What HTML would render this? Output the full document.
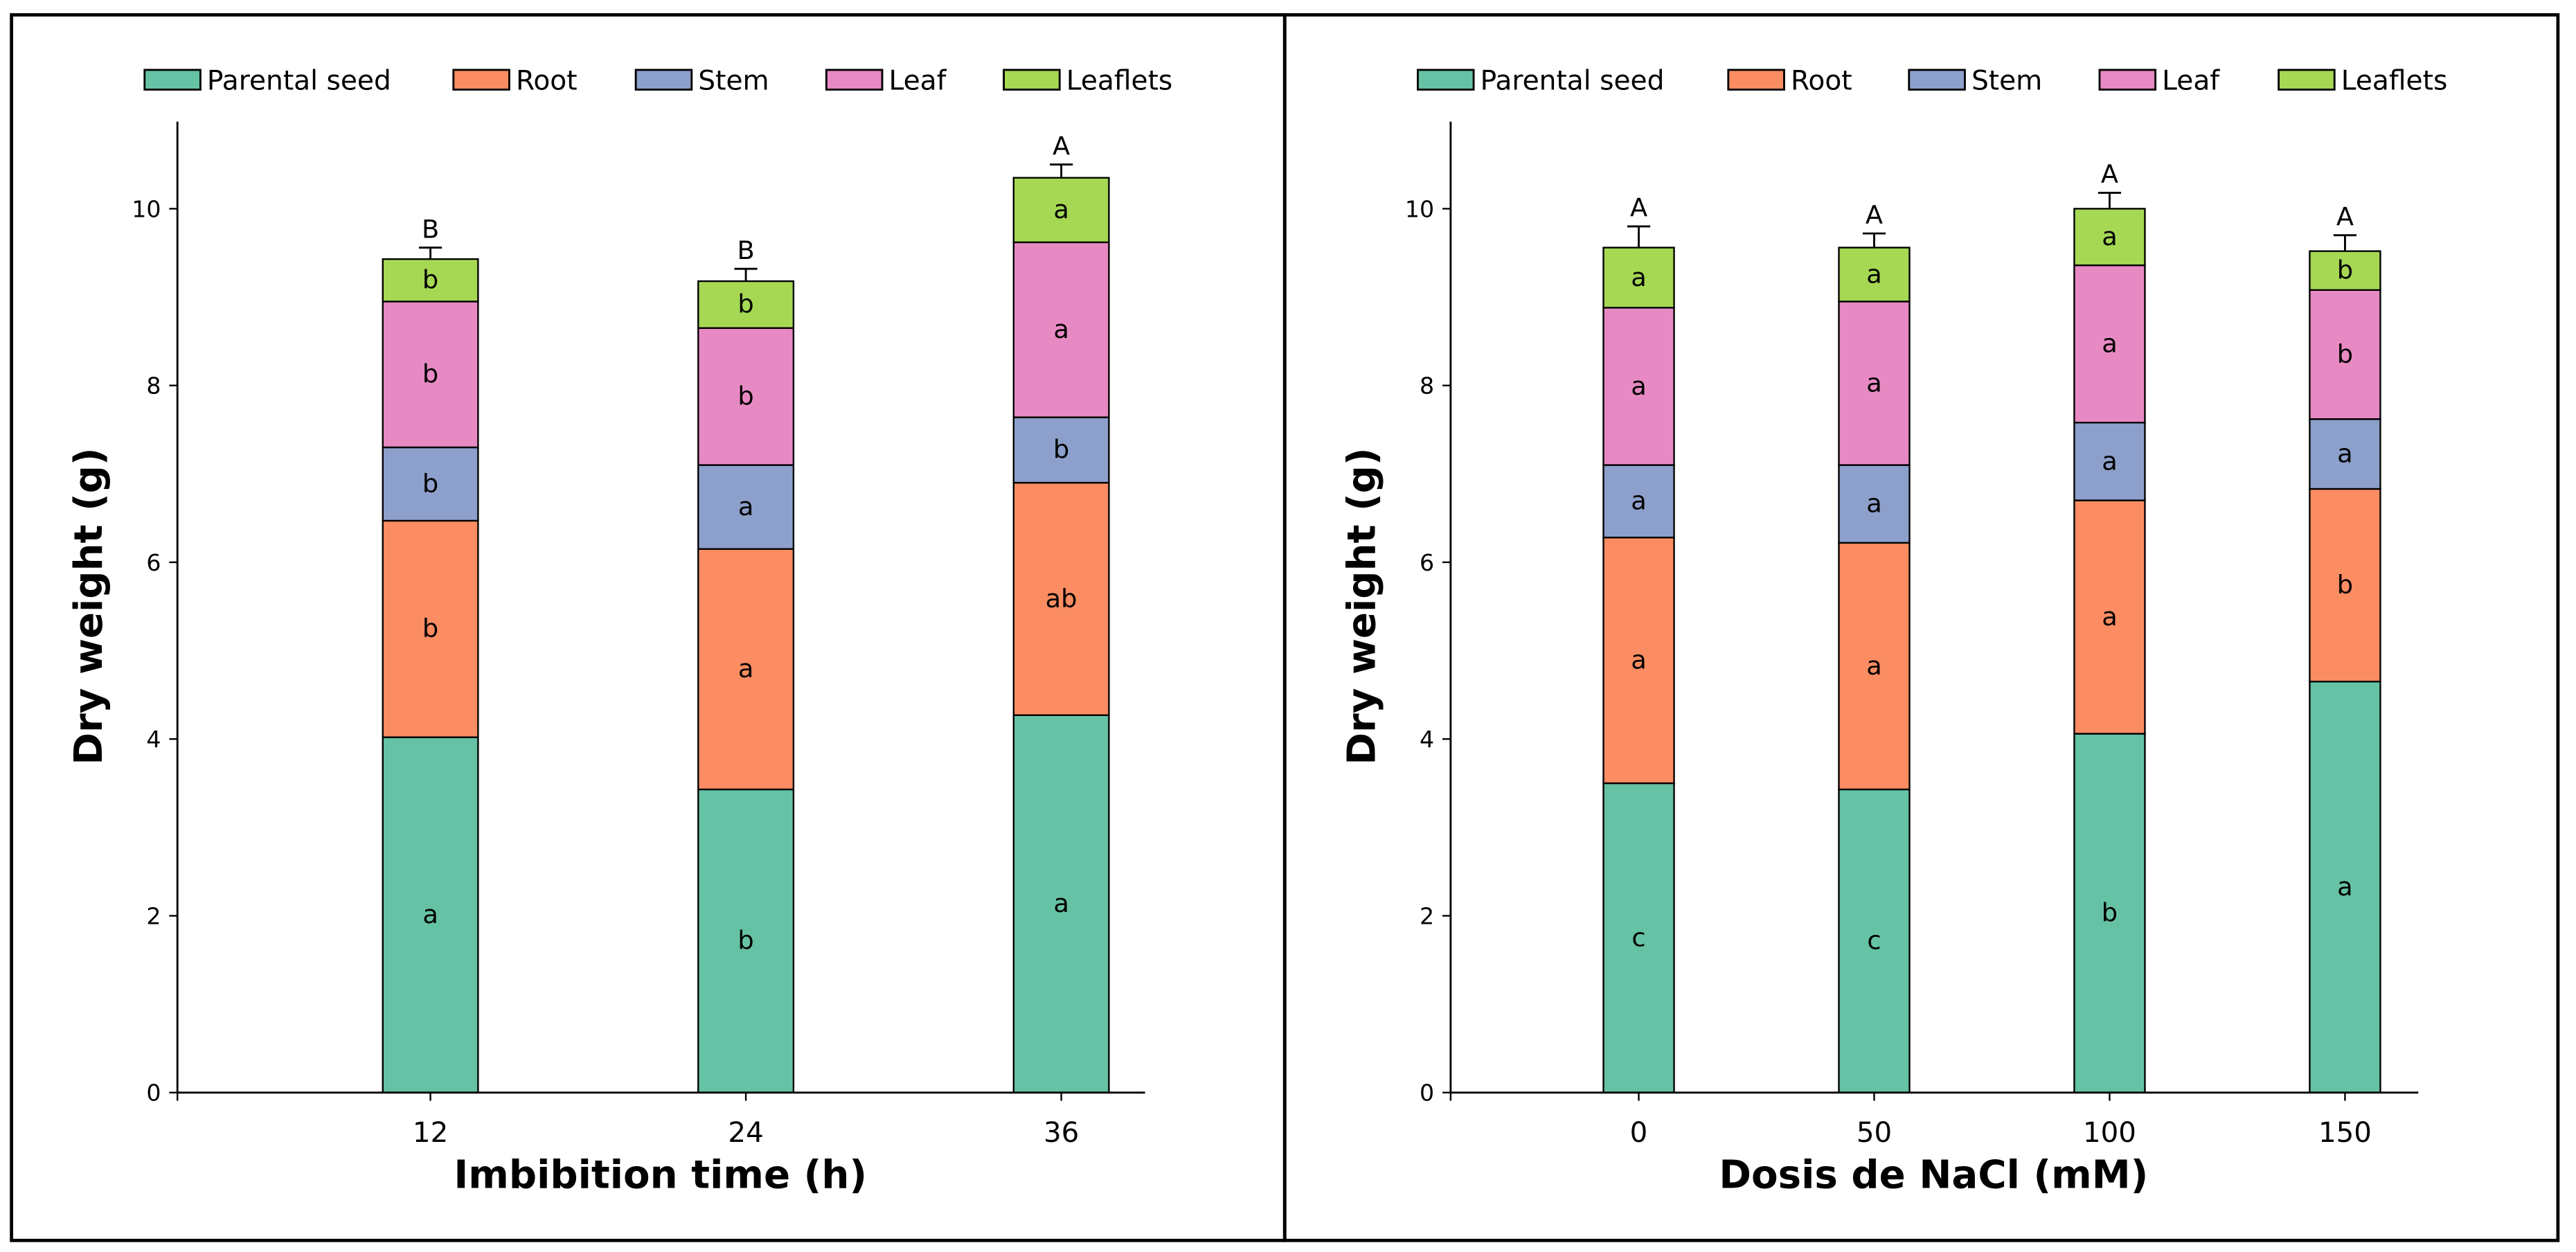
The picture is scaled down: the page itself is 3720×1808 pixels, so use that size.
<!DOCTYPE html>
<html><head><meta charset="utf-8"><style>
html,body{margin:0;padding:0;background:#fff}
svg{display:block;font-family:"DejaVu Sans","Liberation Sans",sans-serif}
</style></head><body>
<svg id="fig" width="3720" height="1808" viewBox="0 0 1568 762" xmlns="http://www.w3.org/2000/svg">
<rect x="0" y="0" width="1568" height="762" fill="#fff"/>
<rect x="7" y="9" width="775" height="746" fill="none" stroke="#000" stroke-width="2"/>
<rect x="782" y="9" width="775" height="746" fill="none" stroke="#000" stroke-width="2"/>
<g id="left"></g>
<g id="right"></g>
</svg>
<script>
const series = ["Parental seed","Root","Stem","Leaf","Leaflets"];
const colors = ["#66c2a5","#fc8d62","#8da0cb","#e78ac3","#a6d854"];
// Left chart data
const catsA = ["12","24","36"];
const seedA = [4.02, 3.43, 4.27];
const rootA = [2.45, 2.72, 2.63];
const stemA = [0.83, 0.95, 0.74];
const leafA = [1.65, 1.55, 1.98];
const leafletsA = [0.48, 0.53, 0.73];
const errA = [0.13, 0.14, 0.15];
const lettersA = [["a","b","b","b","b"],["b","a","a","b","b"],["a","ab","b","a","a"]];
const topA = ["B","B","A"];
// Right chart data
const catsB = ["0","50","100","150"];
const seedB = [3.50, 3.43, 4.06, 4.65];
const rootB = [2.78, 2.79, 2.64, 2.18];
const stemB = [0.82, 0.88, 0.88, 0.79];
const leafB = [1.78, 1.85, 1.78, 1.46];
const leafletsB = [0.68, 0.61, 0.64, 0.44];
const errB = [0.24, 0.16, 0.18, 0.18];
const lettersB = [["c","a","a","a","a"],["c","a","a","a","a"],["b","a","a","a","a"],["a","b","a","b","b"]];
const topB = ["A","A","A","A"];
const yTicks = [0,2,4,6,8,10];

const NS="http://www.w3.org/2000/svg";
function mk(p,tag,attrs,text){const e=document.createElementNS(NS,tag);for(const k in attrs)e.setAttribute(k,attrs[k]);if(text!==undefined)e.textContent=text;p.appendChild(e);return e;}

function draw(g, cfg){
  const y0=665, pxPerUnit=53.8;
  const yS=v=>y0-v*pxPerUnit;
  const xS=i=>cfg.x0+i*cfg.step;
  cfg.legendX.forEach((lx,i)=>{
    const r=mk(g,"rect",{x:lx,y:42.5,width:34,height:12,fill:colors[i],stroke:"#000","stroke-width":1.2});
    
    
    const t=mk(g,"text",{x:lx+38,y:54.5,"font-size":16.5},series[i]);
    
    
  });
  cfg.cats.forEach((c,i)=>{
    const vals=cfg.data.map(a=>a[i]);
    let cum=0;
    vals.forEach((v,s)=>{
      const top=cum+v;
      const r=mk(g,"rect",{x:xS(i)-cfg.bw/2,y:yS(top),width:cfg.bw,height:yS(cum)-yS(top),fill:colors[s],stroke:"#000","stroke-width":1});
      
      
      const t=mk(g,"text",{x:xS(i),y:yS(cum+v/2)+5,"font-size":15.5,"text-anchor":"middle"},cfg.letters[i][s]);
      
      
      cum=top;
    });
    const eTop=yS(cum+cfg.err[i]);
    const el=mk(g,"path",{d:`M${xS(i)} ${yS(cum)}V${eTop}M${xS(i)-7} ${eTop}H${xS(i)+7}`,stroke:"#000","stroke-width":1.2,fill:"none"});
    
    
    const tt=mk(g,"text",{x:xS(i),y:eTop-6,"font-size":15.5,"text-anchor":"middle"},cfg.top[i]);
    
    
    const tl=mk(g,"text",{x:xS(i),y:y0+30,"font-size":17,"text-anchor":"middle"},c);
    
    
    mk(g,"line",{x1:xS(i),x2:xS(i),y1:y0,y2:y0+5,stroke:"#000","stroke-width":1});
  });
  const ax=mk(g,"path",{d:`M${cfg.axL} 74V${y0}H${cfg.axR}`,stroke:"#000","stroke-width":1.2,fill:"none"});
  
  
  mk(g,"line",{x1:cfg.axL,x2:cfg.axL,y1:y0,y2:y0+5,stroke:"#000","stroke-width":1});
  yTicks.forEach(v=>{
    mk(g,"line",{x1:cfg.axL-5,x2:cfg.axL,y1:yS(v),y2:yS(v),stroke:"#000","stroke-width":1});
    const t=mk(g,"text",{x:cfg.axL-10,y:yS(v)+5,"font-size":14,"text-anchor":"end"},String(v));
    
    
  });
  const yt=mk(g,"text",{x:0,y:0,"font-size":23.7,"font-weight":"bold","text-anchor":"middle",transform:`translate(${cfg.axL-46},369) rotate(-90)`},"Dry weight (g)");
  
  
  const xt=mk(g,"text",{x:cfg.xTitleX,y:723,"font-size":23.7,"font-weight":"bold","text-anchor":"middle"},cfg.xTitle);
  
  
}
draw(document.getElementById("left"),{cats:catsA,data:[seedA,rootA,stemA,leafA,leafletsA],err:errA,letters:lettersA,top:topA,
  x0:262,step:192,bw:58,axL:108,axR:697,legendX:[88,276,387,503,611],xTitle:"Imbibition time (h)",xTitleX:402});
draw(document.getElementById("right"),{cats:catsB,data:[seedB,rootB,stemB,leafB,leafletsB],err:errB,letters:lettersB,top:topB,
  x0:997.5,step:143.3,bw:43,axL:883,axR:1472,legendX:[863,1052,1162,1278,1387],xTitle:"Dosis de NaCl (mM)",xTitleX:1177});
</script>
</body></html>
